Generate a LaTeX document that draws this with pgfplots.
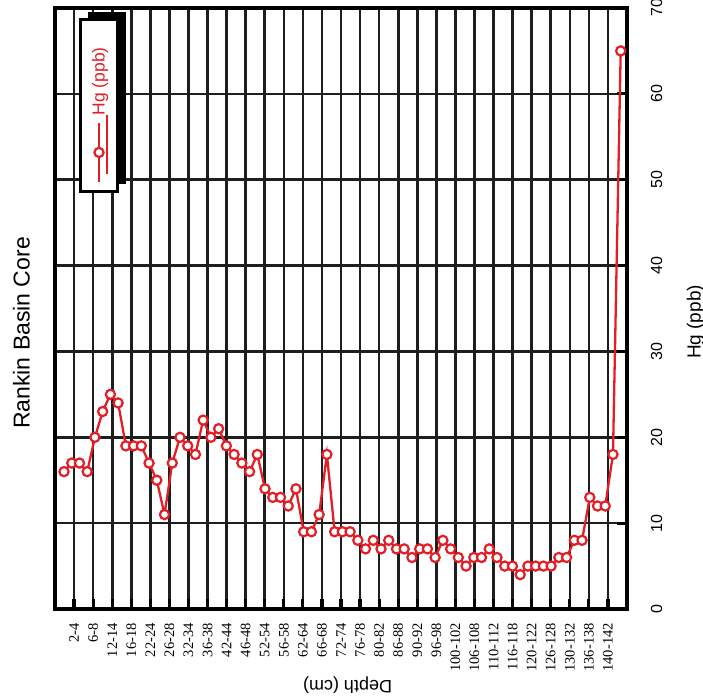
\documentclass[border=0pt]{standalone}
\usepackage{fontspec}
\setmainfont{Liberation Sans}
\newfontfamily\serifont{Liberation Serif}
\usepackage{graphicx}
\usepackage{pgfplots}
\usepackage{pgfplotstable}
\pgfplotsset{compat=1.18}
\usetikzlibrary{shadows}
\definecolor{hgred}{RGB}{228,30,38}
\definecolor{gridc}{RGB}{30,30,30}

\pgfplotstableread{
d hg
1 16
3 17
5 17
7 16
9 20
11 23
13 25
15 24
17 19
19 19
21 19
23 17
25 15
27 11
29 17
31 20
33 19
35 18
37 22
39 20
41 21
43 19
45 18
47 17
49 16
51 18
53 14
55 13
57 13
59 12
61 14
63 9
65 9
67 11
69 18
71 9
73 9
75 9
77 8
79 7
81 8
83 7
85 8
87 7
89 7
91 6
93 7
95 7
97 6
99 8
101 7
103 6
105 5
107 6
109 6
111 7
113 6
115 5
117 5
119 4
121 5
123 5
125 5
127 5
129 6
131 6
133 8
135 8
137 13
139 12
141 12
143 18
145 65
}\hgdata

\begin{document}
\begin{tikzpicture}
\path[use as bounding box] (-55pt,-89pt) rectangle (648pt,609pt);
\begin{axis}[
  at={(0pt,0pt)}, anchor=south west,
  scale only axis, width=572pt, height=601pt,
  xmin=-1.328, xmax=146.63, ymin=0, ymax=70,
  xtick={3.604,8.536,13.468,18.400,23.332,28.264,33.196,38.128,43.060,47.992,52.924,57.856,62.788,67.720,72.652,77.584,82.516,87.448,92.380,97.312,102.244,107.176,112.108,117.040,121.972,126.904,131.836,136.768,141.700},
  xticklabels={2-4,6-8,12-14,16-18,22-24,26-28,32-34,36-38,42-44,46-48,52-54,56-58,62-64,66-68,72-74,76-78,80-82,86-88,90-92,96-98,100-102,106-108,110-112,116-118,120-122,126-128,130-132,136-138,140-142},
  ytick={0,10,...,70},
  xtick pos=lower, ytick pos=right, yticklabel pos=right,
  tick align=inside, major tick length=10pt,
  grid=major, major grid style={gridc, line width=2.6pt},
  axis line style={black, line width=3.2pt},
  tick style={black, line width=3.2pt},
  xticklabel style={font=\fontsize{14.5}{14.5}\selectfont\serifont, rotate=90, anchor=east, inner sep=0pt},
  xticklabel shift=14pt,
  yticklabel style={font=\fontsize{16}{16}\selectfont, rotate=90, anchor=base, inner sep=0pt, /pgf/number format/assume math mode=true},
  yticklabel shift=35pt,
  legend style={at={(rel axis cs:0.0769,0.8374)}, anchor=center,
    draw=black, line width=3pt, fill=white,
    font=\fontsize{17.5}{17.5}\selectfont,
    inner xsep=7.3pt, inner ysep=3pt,
    drop shadow={shadow xshift=8pt, shadow yshift=8pt, fill=black, opacity=1}},
  legend image code/.code={%
    \path (0pt,0pt);
    \draw[#1, overlay, mark repeat=2, mark phase=2] plot coordinates {(10.2pt,-17.25pt) (10.2pt,-46.75pt) (10.2pt,-76.25pt)};},
]
\addplot[hgred, line width=2.3pt, mark=*, mark size=4.6pt,
  mark options={fill=white, draw=hgred, line width=2.2pt, solid}]
  table[x=d, y=hg] {\hgdata};
\addlegendentry{\rotatebox{90}{\hspace*{69.9pt}\textcolor{hgred}{Hg (ppb)}\hspace*{22.7pt}}}
\end{axis}
\node[rotate=90, anchor=base, inner sep=0pt, font=\fontsize{23}{23}\selectfont] at (-25.5pt,276pt) {Rankin Basin Core};
\node[rotate=180, anchor=base, inner sep=0pt, font=\fontsize{18}{18}\selectfont] at (292.5pt,-71pt) {Depth (cm)};
\node[rotate=90, anchor=base, inner sep=0pt, font=\fontsize{19}{19}\selectfont] at (645.6pt,287pt) {Hg (ppb)};
\end{tikzpicture}
\end{document}
